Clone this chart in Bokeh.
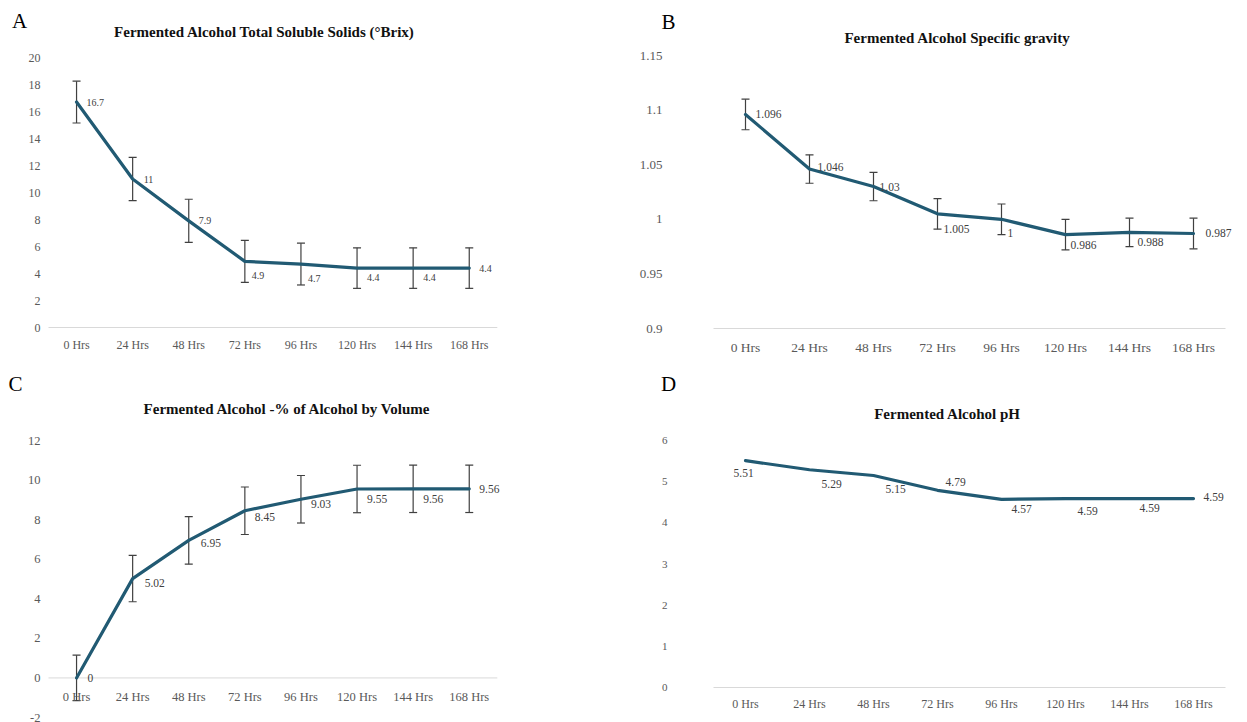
from bokeh.plotting import figure
from bokeh.models import (ColumnDataSource, Range1d, Whisker, TeeHead, LabelSet, Label)
from bokeh.layouts import column, row
from bokeh.embed import file_html
from bokeh.resources import INLINE

# ---------------- data ----------------
hours = ["0 Hrs", "24 Hrs", "48 Hrs", "72 Hrs", "96 Hrs", "120 Hrs", "144 Hrs", "168 Hrs"]

brix = [16.7, 11, 7.9, 4.9, 4.7, 4.4, 4.4, 4.4]
brix_err = [1.55, 1.6, 1.6, 1.55, 1.55, 1.5, 1.5, 1.5]
brix_ticks = [0, 2, 4, 6, 8, 10, 12, 14, 16, 18, 20]

sg = [1.096, 1.046, 1.03, 1.005, 1.0, 0.986, 0.988, 0.987]
sg_err = [0.014, 0.013, 0.013, 0.014, 0.014, 0.014, 0.013, 0.014]
sg_ticks = [0.9, 0.95, 1.0, 1.05, 1.1, 1.15]

abv = [0, 5.02, 6.95, 8.45, 9.03, 9.55, 9.56, 9.56]
abv_err = [1.15, 1.17, 1.2, 1.2, 1.2, 1.2, 1.2, 1.2]
abv_ticks = [-2, 0, 2, 4, 6, 8, 10, 12]

ph = [5.51, 5.29, 5.15, 4.79, 4.57, 4.59, 4.59, 4.59]
ph_ticks = [0, 1, 2, 3, 4, 5, 6]

titles = ["Fermented Alcohol Total Soluble Solids (°Brix)",
          "Fermented Alcohol Specific gravity",
          "Fermented Alcohol -% of Alcohol by Volume",
          "Fermented Alcohol pH"]
letters = ["A", "B", "C", "D"]

LINE = "#215a73"
SERIF = "Liberation Serif"
TICK_COLOR = "#595959"


def fmt(v):
    return format(v, "g")


def panel(letter, title, values, errors, ticks, g, s):
    W, H = g["size"]
    n = len(hours)
    idx = list(range(n))
    # geometry: canvas x of the first category band edge, px per category,
    # canvas y of top and bottom tick values
    x_edge_px, cat_px = g["x_edge"], g["cat_px"]
    top_px, bot_px = g["y_px"]
    ppu = (bot_px - top_px) / (ticks[-1] - ticks[0])
    x_start = -0.5 - x_edge_px / cat_px
    y_top = ticks[-1] + top_px / ppu

    p = figure(x_range=Range1d(x_start, x_start + W / cat_px),
               y_range=Range1d(y_top - H / ppu, y_top),
               width=W, height=H, min_border=0, toolbar_location=None,
               output_backend="svg")
    p.axis.visible = False
    p.grid.visible = False
    p.outline_line_color = None
    p.background_fill_color = "white"
    p.border_fill_color = "white"

    base = 0 if ticks[0] <= 0 <= ticks[-1] else ticks[0]

    # category axis line
    p.segment(x0=[-0.5], y0=[base], x1=[n - 0.5], y1=[base],
              line_color="#d9d9d9", line_width=1)
    # category tick labels
    p.text(x=idx, y=[base] * n, text=hours, y_offset=s["x_off"],
           text_align="center", text_baseline="middle", text_font=SERIF,
           text_font_size=s["x_font"], text_color=TICK_COLOR)
    # value tick labels
    p.text(x=[-0.5] * len(ticks), y=ticks, text=[fmt(t) for t in ticks],
           x_offset=s["y_off"], text_align="right", text_baseline="middle",
           text_font=SERIF, text_font_size=s["y_font"], text_color=TICK_COLOR)

    src = dict(x=idx, y=values, lbl=[fmt(v) for v in values],
               dx=s["dx"], dy=[-d for d in s["dy"]])
    if errors is not None:
        src["up"] = [v + e for v, e in zip(values, errors)]
        src["lo"] = [v - e for v, e in zip(values, errors)]
    source = ColumnDataSource(src)

    if errors is not None:
        p.add_layout(Whisker(base="x", upper="up", lower="lo", source=source,
                             line_color="#404040", line_width=1.2,
                             upper_head=TeeHead(size=8, line_color="#404040", line_width=1.2),
                             lower_head=TeeHead(size=8, line_color="#404040", line_width=1.2)))

    p.line("x", "y", source=source, line_color=LINE, line_width=3.2,
           line_join="round", line_cap="round")

    p.add_layout(LabelSet(x="x", y="y", text="lbl", source=source,
                          x_offset="dx", y_offset="dy", text_align="left",
                          text_baseline="middle", text_font=s["lbl_font"],
                          text_font_size=s["lbl_size"], text_color="#404040"))

    lx, ly = g["letter"]
    tx, ty = g["title"]
    p.add_layout(Label(x=lx, y=H - ly, x_units="screen", y_units="screen",
                       text=letter, text_font=SERIF, text_font_size="21px",
                       text_color="#000000", text_align="center",
                       text_baseline="middle"))
    p.add_layout(Label(x=tx, y=H - ty, x_units="screen", y_units="screen",
                       text=title, text_font=SERIF, text_font_size=s["t_font"],
                       text_font_style="bold", text_color="#111111",
                       text_align="center", text_baseline="middle"))
    return p


pA = panel(letters[0], titles[0], brix, brix_err, brix_ticks,
           dict(size=(620, 361), x_edge=48, cat_px=56.1, y_px=(57, 327),
                letter=(19, 20), title=(264, 31)),
           dict(y_off=-8, y_font="12px", x_off=17, x_font="12px", t_font="15px",
                lbl_font="Liberation Sans", lbl_size="10px",
                dx=[10, 11, 10, 7, 7, 10, 10, 10], dy=[0, 0, 0, 14, 14, 9, 9, 0]))

pB = panel(letters[1], titles[1], sg, sg_err, sg_ticks,
           dict(size=(627, 361), x_edge=93, cat_px=64, y_px=(55, 328),
                letter=(48, 21), title=(337, 37)),
           dict(y_off=-51, y_font="13px", x_off=19, x_font="13.5px", t_font="15px",
                lbl_font=SERIF, lbl_size="11.5px",
                dx=[10, 8, 6, 6, 6, 5, 8, 12], dy=[0, -2, 0, 15, 14, 10, 10, 0]))

pC = panel(letters[2], titles[2], abv, abv_err, abv_ticks,
           dict(size=(620, 361), x_edge=48, cat_px=56.1, y_px=(79, 356),
                letter=(15, 22), title=(287, 47)),
           dict(y_off=-8, y_font="12.5px", x_off=19, x_font="12.5px", t_font="15px",
                lbl_font=SERIF, lbl_size="11.5px",
                dx=[11, 12, 12, 10, 10, 10, 10, 10], dy=[0, 4, 3, 6, 5, 10, 10, 0]))

pD = panel(letters[3], titles[3], ph, None, ph_ticks,
           dict(size=(627, 361), x_edge=93, cat_px=64, y_px=(79, 326),
                letter=(48, 22), title=(327, 52)),
           dict(y_off=-46, y_font="11px", x_off=16, x_font="12px", t_font="15px",
                lbl_font=SERIF, lbl_size="11.5px",
                dx=[-12, 12, 12, 8, 10, 12, 10, 10], dy=[12, 14, 14, -8, 10, 12, 9, -2]))

layout = column(row(pA, pB, spacing=0), row(pC, pD, spacing=0), spacing=0)

open("out.html", "w").write(file_html(layout, INLINE))
